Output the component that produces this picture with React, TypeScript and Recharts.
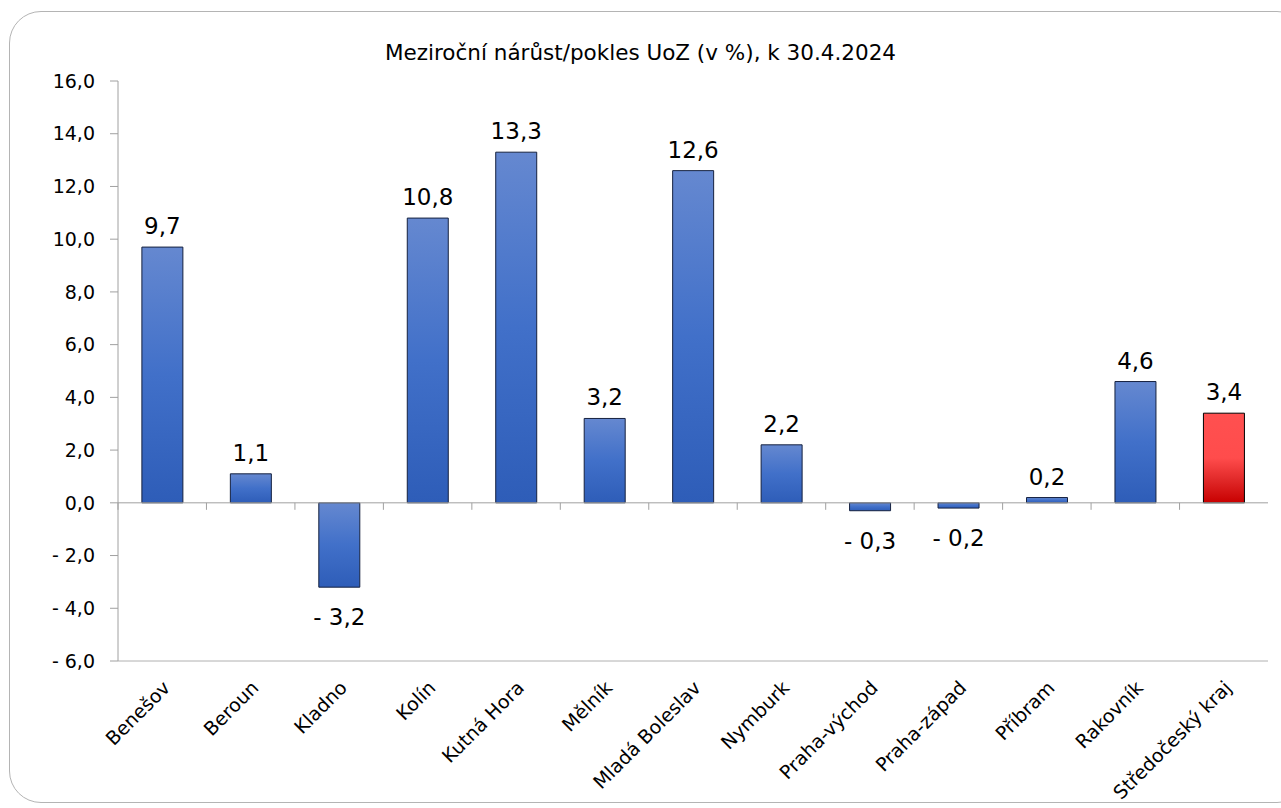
import React from "react";
import { BarChart, Bar, XAxis, YAxis, Cell, LabelList, ReferenceLine } from "recharts";

const categories = [
  "Benešov", "Beroun", "Kladno", "Kolín", "Kutná Hora", "Mělník", "Mladá Boleslav",
  "Nymburk", "Praha-východ", "Praha-západ", "Příbram", "Rakovník", "Středočeský kraj",
];
const values = [9.7, 1.1, -3.2, 10.8, 13.3, 3.2, 12.6, 2.2, -0.3, -0.2, 0.2, 4.6, 3.4];
const highlight = [false, false, false, false, false, false, false, false, false, false, false, false, true];
const yTicks = [-6, -4, -2, 0, 2, 4, 6, 8, 10, 12, 14, 16];
const title = "Meziroční nárůst/pokles UoZ (v %), k 30.4.2024";

const data = categories.map((name, i) => ({ name, value: values[i], hl: highlight[i] }));

const FONT = "'DejaVu Sans', sans-serif";
const W = 1281;
const H = 808;
const PLOT_LEFT = 118;
const PLOT_RIGHT = 1268;
const PLOT_TOP = 81;
const PLOT_BOTTOM = 661;
const Y_MIN = -6;
const Y_MAX = 16;
const ZERO_Y = PLOT_TOP + ((Y_MAX - 0) / (Y_MAX - Y_MIN)) * (PLOT_BOTTOM - PLOT_TOP);
const STEP = (PLOT_RIGHT - PLOT_LEFT) / categories.length;

const fmt = (v: number) => (v < 0 ? "- " : "") + Math.abs(v).toFixed(1).replace(".", ",");

const XTick = (props: any) => {
  const { x, payload } = props;
  const left = x - STEP / 2;
  return (
    <g>
      <line x1={left} x2={left} y1={ZERO_Y} y2={ZERO_Y + 7} stroke="#a0a0a0" strokeWidth={1} />
      <g transform={`translate(${x - 1},${PLOT_BOTTOM + 18}) rotate(-45)`}>
        <text x={0} y={0} dy="0.75em" textAnchor="end" fontFamily={FONT} fontSize={19} fill="#000">
          {payload.value}
        </text>
      </g>
    </g>
  );
};

const ValueLabel = (props: any) => {
  const { x, y, width, height, value } = props;
  const cx = x + width / 2;
  const top = Math.min(y, y + height);
  const bottom = Math.max(y, y + height);
  if (value < 0) {
    return (
      <text x={cx} y={bottom + 38} textAnchor="middle" fontFamily={FONT} fontSize={23} fill="#000">
        {fmt(value)}
      </text>
    );
  }
  return (
    <text x={cx} y={top - 13} textAnchor="middle" fontFamily={FONT} fontSize={23} fill="#000">
      {fmt(value)}
    </text>
  );
};

export default function App() {
  return (
    <div style={{ position: "fixed", left: 0, top: 0, width: W, height: H, overflow: "hidden", background: "#fff" }}>
      <div
        style={{
          position: "absolute",
          left: 9,
          top: 11,
          width: 1300,
          height: 792,
          border: "1px solid #b4b4b4",
          borderRadius: 32,
          boxSizing: "border-box",
        }}
      />
      <div
        style={{
          position: "absolute",
          left: 0,
          width: W,
          top: 40,
          textAlign: "center",
          fontFamily: FONT,
          fontSize: 21.5,
          color: "#000",
          lineHeight: "26px",
        }}
      >
        {title}
      </div>
      <div style={{ position: "absolute", left: 0, top: 0 }}>
        <BarChart
          width={W}
          height={H}
          data={data}
          margin={{ top: PLOT_TOP, right: W - PLOT_RIGHT, left: 0, bottom: 0 }}
          barCategoryGap="27%"
        >
          <defs>
            <linearGradient id="blueGrad" x1="0" y1="0" x2="0" y2="1">
              <stop offset="0%" stopColor="#6588d0" />
              <stop offset="50%" stopColor="#4170c9" />
              <stop offset="100%" stopColor="#2e5db8" />
            </linearGradient>
            <linearGradient id="redGrad" x1="0" y1="0" x2="0" y2="1">
              <stop offset="0%" stopColor="#ff5050" />
              <stop offset="50%" stopColor="#ff4c4c" />
              <stop offset="75%" stopColor="#e02828" />
              <stop offset="100%" stopColor="#c80000" />
            </linearGradient>
          </defs>
          <XAxis
            dataKey="name"
            xAxisId="bottom"
            height={H - PLOT_BOTTOM}
            axisLine={{ stroke: "#b0b0b0" }}
            tickLine={false}
            interval={0}
            tick={<XTick />}
          />
          <XAxis
            dataKey="name"
            xAxisId="top"
            orientation="top"
            height={0}
            axisLine={{ stroke: "#b0b0b0" }}
            tickLine={false}
            tick={false}
          />
          <YAxis
            yAxisId="left"
            width={PLOT_LEFT}
            domain={[Y_MIN, Y_MAX]}
            ticks={yTicks}
            interval={0}
            tickFormatter={fmt}
            axisLine={{ stroke: "#a0a0a0" }}
            tickLine={{ stroke: "#a0a0a0" }}
            tickSize={8}
            tickMargin={15}
            tick={{ fontFamily: FONT, fontSize: 19, fill: "#000" }}
          />
          <YAxis
            yAxisId="right"
            orientation="right"
            width={0}
            domain={[Y_MIN, Y_MAX]}
            axisLine={{ stroke: "#b0b0b0" }}
            tickLine={false}
            tick={false}
          />
          <ReferenceLine y={0} yAxisId="left" xAxisId="bottom" stroke="#a0a0a0" strokeWidth={1} />
          <Bar
            dataKey="value"
            xAxisId="bottom"
            yAxisId="left"
            isAnimationActive={false}
            stroke="#15213f"
            strokeWidth={1}
          >
            {data.map((d, i) => (
              <Cell key={i} fill={d.hl ? "url(#redGrad)" : "url(#blueGrad)"} stroke={d.hl ? "#000" : "#15213f"} />
            ))}
            <LabelList dataKey="value" content={<ValueLabel />} />
          </Bar>
        </BarChart>
      </div>
    </div>
  );
}
